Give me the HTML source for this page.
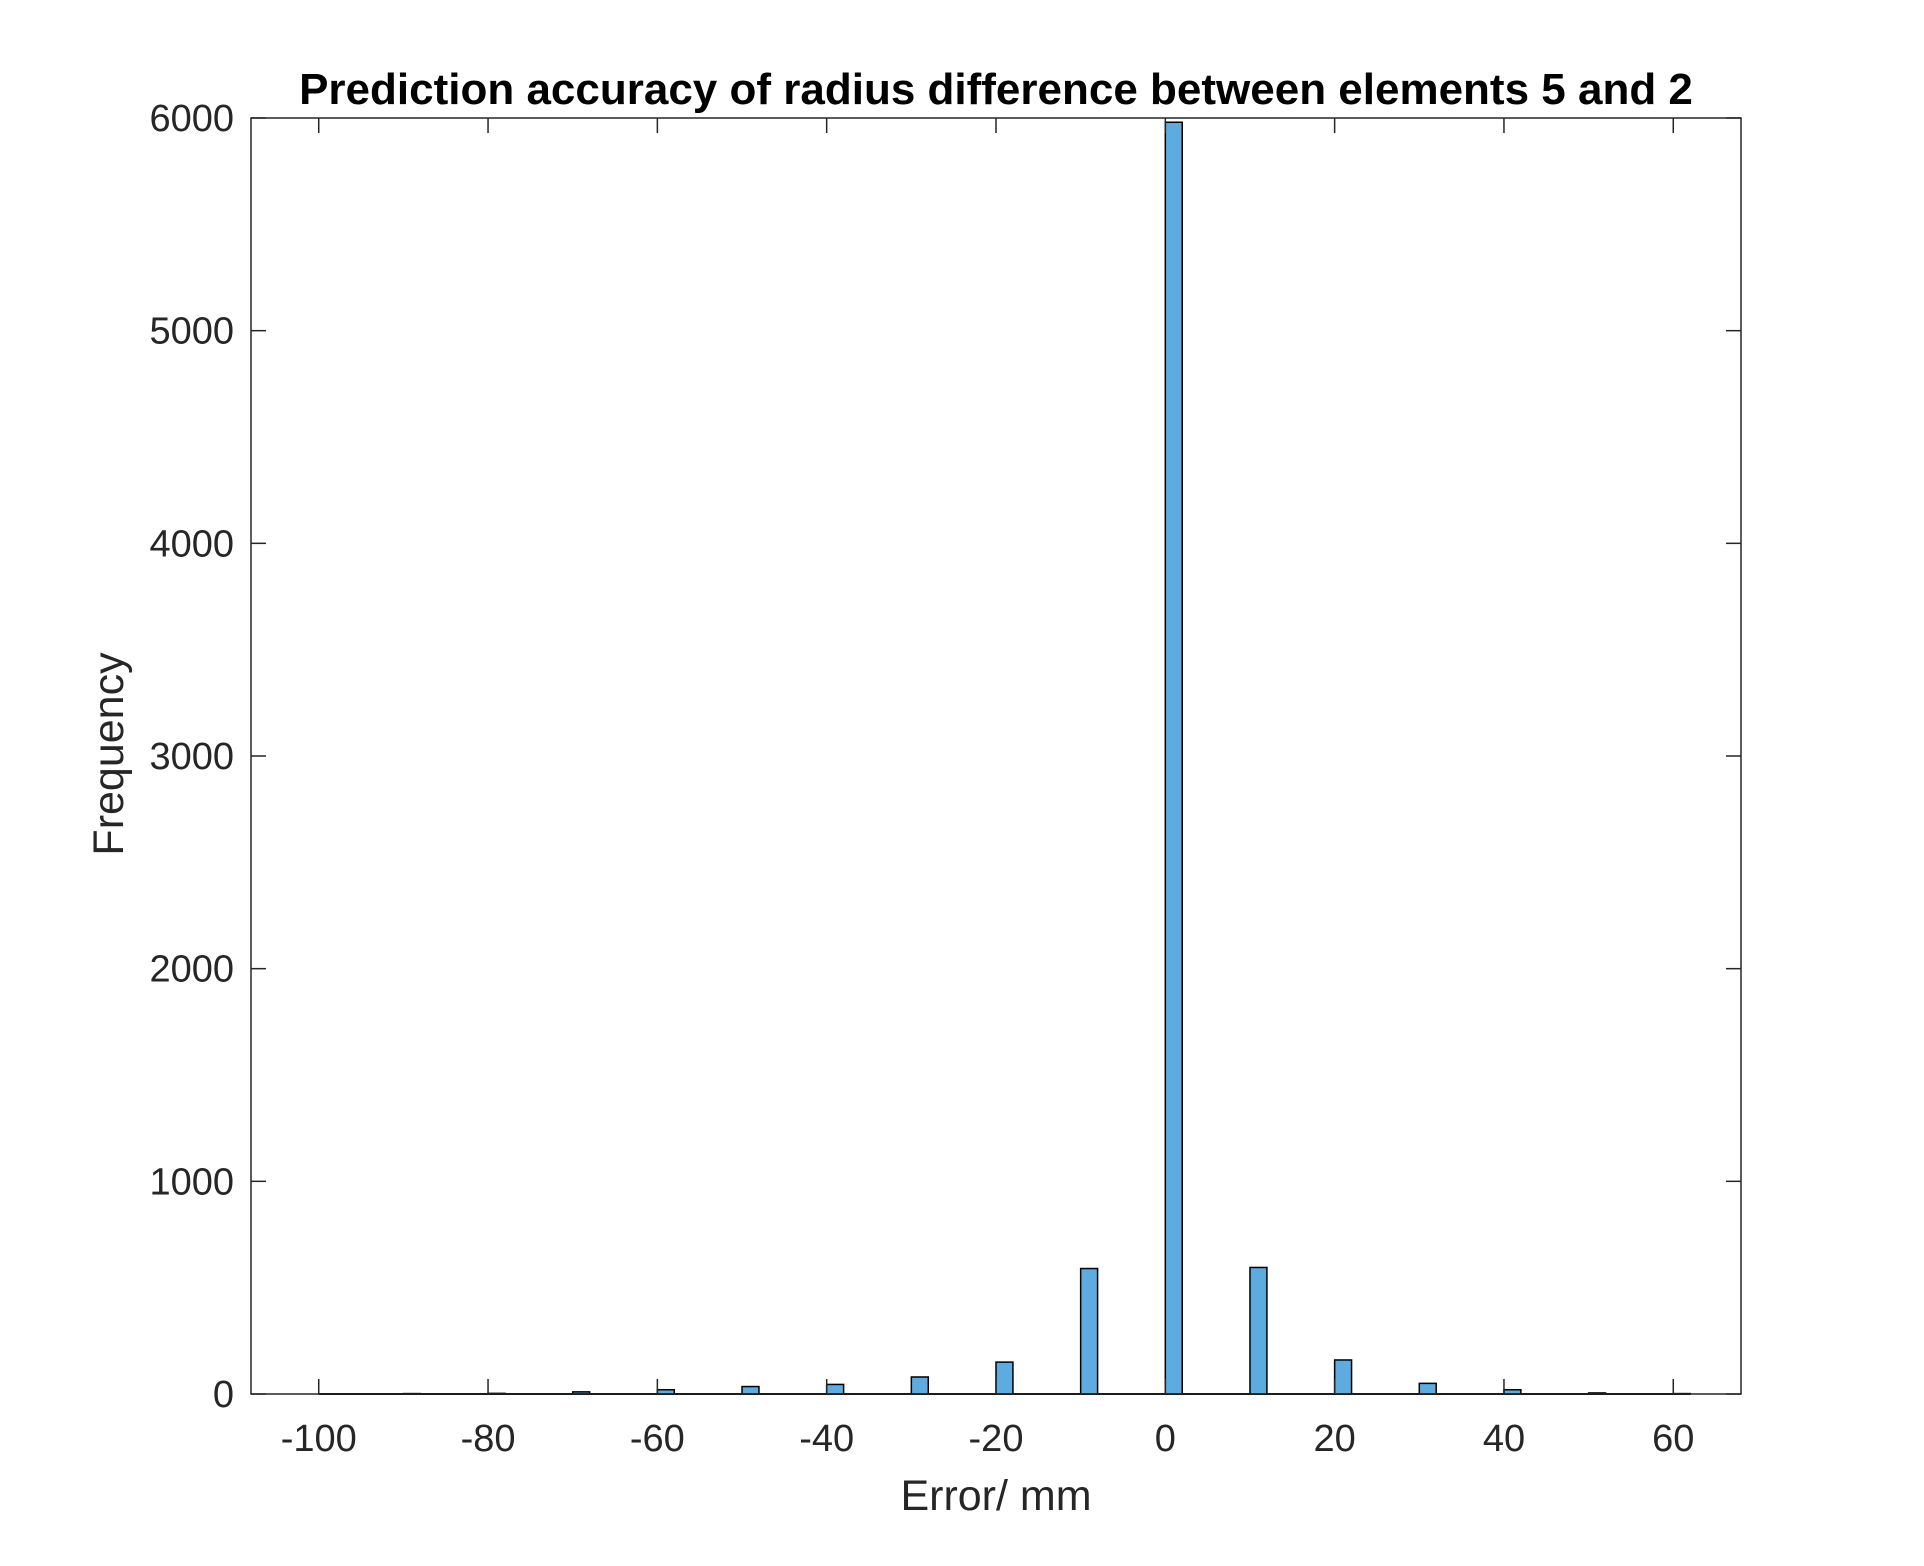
<!DOCTYPE html>
<html><head><meta charset="utf-8"><style>
html,body{margin:0;padding:0;background:#fff;}
svg{display:block;font-family:"Liberation Sans",Arial,sans-serif;}
</style></head><body>
<svg id="chart" width="1924" height="1566" viewBox="0 0 1924 1566">
<rect x="0" y="0" width="1924" height="1566" fill="#fff"/>
<text x="996" y="104" text-anchor="middle" font-size="44" font-weight="bold" fill="#000">Prediction accuracy of radius difference between elements 5 and 2</text>
<g id="plot"></g>
<text x="996" y="1510" text-anchor="middle" font-size="43" fill="#262626">Error/ mm</text>
<text transform="translate(123,754) rotate(-90)" text-anchor="middle" font-size="43" fill="#262626">Frequency</text>
</svg>
<script>
const binCenters = [-90,-80,-70,-60,-50,-40,-30,-20,-10,0,10,20,30,40,50,60];
const counts = [2,3,10,20,35,45,80,150,590,5980,595,160,50,20,5,2];
const xTicks = [-100,-80,-60,-40,-20,0,20,40,60];
const yTicks = [0,1000,2000,3000,4000,5000,6000];
const binWidth = 2;
const xMin=-108, xMax=68, yMin=0, yMax=6000;
const L=251,R=1741,T=118,B=1394;
const sx=v=>L+(v-xMin)/(xMax-xMin)*(R-L);
const sy=v=>B-(v-yMin)/(yMax-yMin)*(B-T);
const NS="http://www.w3.org/2000/svg";
const g=document.getElementById('plot');
function mk(t,a){const e=document.createElementNS(NS,t);for(const k in a)e.setAttribute(k,a[k]);g.appendChild(e);return e;}
const bl=mk('line',{x1:sx(-100),x2:sx(62),y1:sy(0),y2:sy(0),stroke:'#000','stroke-width':2});


binCenters.forEach((c,i)=>{
  const x0=sx(c), x1=sx(c+binWidth);
  const r=mk('rect',{x:x0,y:sy(counts[i]),width:x1-x0,height:sy(0)-sy(counts[i]),fill:'#4DA3DB','fill-opacity':0.9,stroke:'#000','stroke-width':1.5});
  
  
});
const box=mk('rect',{x:L,y:T,width:R-L,height:B-T,fill:'none',stroke:'#262626','stroke-width':1.5});


xTicks.forEach(v=>{
  const x=sx(v);
  mk('line',{x1:x,x2:x,y1:B,y2:B-15,stroke:'#262626','stroke-width':1.5});
  mk('line',{x1:x,x2:x,y1:T,y2:T+15,stroke:'#262626','stroke-width':1.5});
  const t=mk('text',{x:x,y:B+57,'text-anchor':'middle','font-size':38,fill:'#262626'});
  t.textContent=v;
  
  
});
yTicks.forEach(v=>{
  const y=sy(v);
  mk('line',{x1:L,x2:L+15,y1:y,y2:y,stroke:'#262626','stroke-width':1.5});
  mk('line',{x1:R,x2:R-15,y1:y,y2:y,stroke:'#262626','stroke-width':1.5});
  const t=mk('text',{x:L-17,y:y+13,'text-anchor':'end','font-size':38,fill:'#262626'});
  t.textContent=v;
  
  
});
</script>
</body></html>
